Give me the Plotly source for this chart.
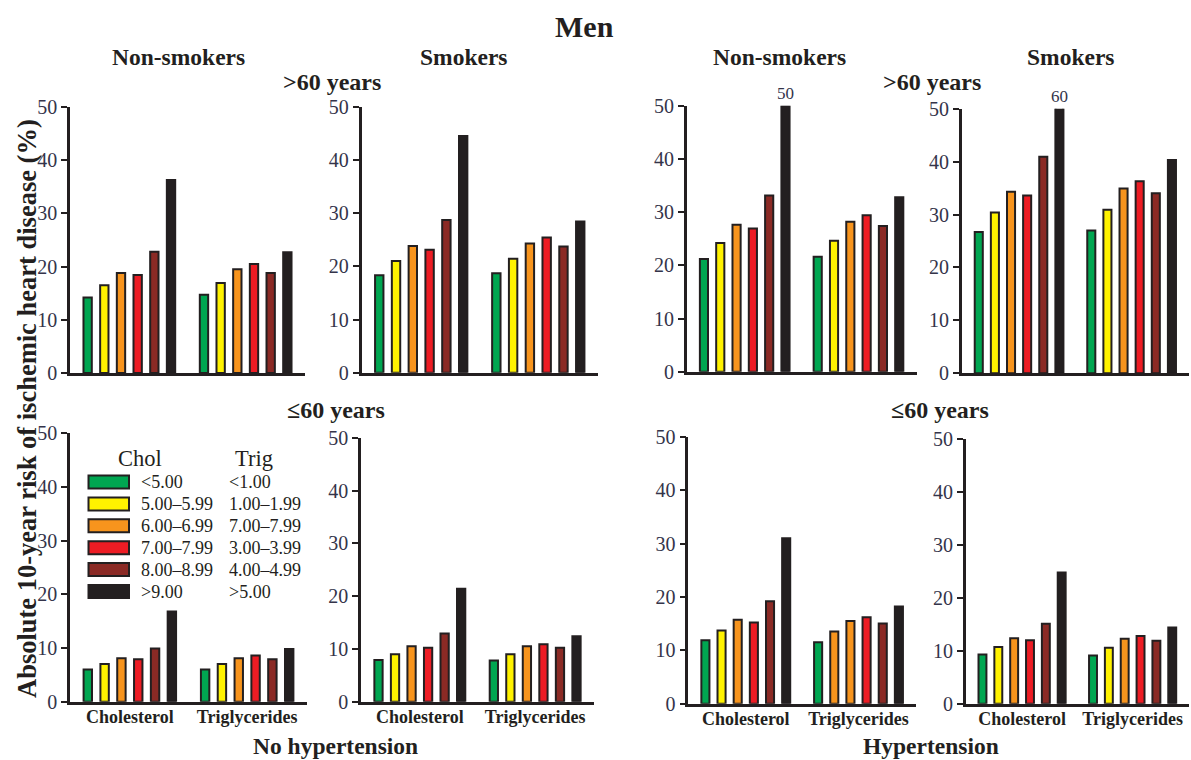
import plotly.graph_objects as go

# ---- data -------------------------------------------------------------
GROUPS = ["Cholesterol", "Triglycerides"]
CHOL_LEVELS = ["<5.00", "5.00–5.99", "6.00–6.99", "7.00–7.99", "8.00–8.99", ">9.00"]
TRIG_LEVELS = ["<1.00", "1.00–1.99", "7.00–7.99", "3.00–3.99", "4.00–4.99", ">5.00"]

# 10-year risk (%) per level: cholesterol levels, then triglyceride levels
nohyp_nonsmk_old_chol = [14.2, 16.5, 18.8, 18.4, 22.8, 36.3]
nohyp_nonsmk_old_trig = [14.7, 16.9, 19.5, 20.5, 18.8, 22.7]
nohyp_smk_old_chol = [18.3, 21.0, 23.8, 23.1, 28.7, 44.5]
nohyp_smk_old_trig = [18.7, 21.4, 24.3, 25.4, 23.7, 28.4]
hyp_nonsmk_old_chol = [21.2, 24.2, 27.6, 26.9, 33.1, 50]
hyp_nonsmk_old_trig = [21.6, 24.6, 28.2, 29.4, 27.4, 32.8]
hyp_smk_old_chol = [26.7, 30.4, 34.3, 33.6, 40.9, 60]
hyp_smk_old_trig = [27.0, 30.9, 34.9, 36.3, 34.0, 40.3]

nohyp_nonsmk_young_chol = [6.0, 7.0, 8.1, 7.9, 9.9, 16.8]
nohyp_nonsmk_young_trig = [6.0, 7.0, 8.1, 8.6, 7.9, 9.8]
nohyp_smk_young_chol = [7.9, 9.0, 10.5, 10.2, 12.9, 21.4]
nohyp_smk_young_trig = [7.8, 9.0, 10.5, 10.9, 10.2, 12.4]
hyp_nonsmk_young_chol = [11.9, 13.7, 15.7, 15.2, 19.2, 31.0]
hyp_nonsmk_young_trig = [11.5, 13.5, 15.5, 16.2, 15.0, 18.2]
hyp_smk_young_chol = [9.3, 10.7, 12.4, 12.0, 15.1, 24.8]
hyp_smk_young_trig = [9.1, 10.6, 12.3, 12.8, 11.9, 14.4]

Y_MAX = 50
Y_TICKS = [0, 10, 20, 30, 40, 50]

# ---- style ------------------------------------------------------------
COLORS = ["#00A651", "#FFF200", "#F7941D", "#ED1C24", "#8B2A25", "#231F20"]
EDGE = "#231F20"
TICK_COLOR = "#34344a"
SERIF = "Liberation Serif"
W, H = 1191, 760


def fx(x):
    return x / W


def fy(y):
    return 1 - y / H


# panel: (chol, trig, x0, x1, y_top, y_bottom, bottom_row, colour overrides)
panels = [
    (nohyp_nonsmk_old_chol, nohyp_nonsmk_old_trig, 70, 305, 107, 373, False, {}),
    (nohyp_smk_old_chol, nohyp_smk_old_trig, 361.5, 598, 106.7, 372.7, False, {}),
    (hyp_nonsmk_old_chol, hyp_nonsmk_old_trig, 686.7, 916.5, 105.7, 371.7, False, {}),
    (hyp_smk_old_chol, hyp_smk_old_trig, 961.7, 1189, 108.7, 373.3, False, {}),
    (nohyp_nonsmk_young_chol, nohyp_nonsmk_young_trig, 70, 307, 433.3, 701.7, True, {}),
    (nohyp_smk_young_chol, nohyp_smk_young_trig, 361, 594, 437.7, 701.7, True, {}),
    (hyp_nonsmk_young_chol, hyp_nonsmk_young_trig, 688.3, 916, 436.7, 703.7, True, {(1, 1): COLORS[2]}),
    (hyp_smk_young_chol, hyp_smk_young_trig, 965.7, 1189, 439.3, 703.7, True, {}),
]

BARGAP = 0.14
fig = go.Figure()
annotations = []
layout_axes = {}

for i, (chol, trig, x0, x1, yt, yb, bottom, over) in enumerate(panels):
    n = i + 1
    xr = "x" if n == 1 else f"x{n}"
    yr = "y" if n == 1 else f"y{n}"
    for k in range(6):
        cols = [over.get((k, g), COLORS[k]) for g in range(2)]
        fig.add_trace(go.Bar(
            x=GROUPS, y=[chol[k], trig[k]],
            marker=dict(color=cols, line=dict(color=EDGE, width=2)),
            xaxis=xr, yaxis=yr, offsetgroup=str(k), showlegend=False,
            name=CHOL_LEVELS[k],
        ))
    # values that reach past the axis top are written above the bar
    for g, vals in enumerate([chol, trig]):
        for k, v in enumerate(vals):
            if v >= Y_MAX:
                annotations.append(dict(
                    x=g + (k - 2.5) * (1 - BARGAP) / 6, y=Y_MAX, xref=xr, yref=yr,
                    text=f"{v:g}", showarrow=False, xanchor="center",
                    yanchor="bottom", yshift=1,
                    font=dict(family=SERIF, size=17, color=TICK_COLOR),
                ))
    layout_axes["xaxis" if n == 1 else f"xaxis{n}"] = dict(
        domain=[fx(x0), fx(x1)], anchor=yr, type="category", automargin=False,
        range=[-0.51, 1.51], showline=True, linewidth=2.5, linecolor=EDGE,
        ticks="", showgrid=False, zeroline=False, showticklabels=bottom,
        ticklabelstandoff=-3,
        tickfont=dict(family=SERIF, size=18, color=EDGE, weight="bold"),
    )
    layout_axes["yaxis" if n == 1 else f"yaxis{n}"] = dict(
        domain=[fy(yb), fy(yt)], anchor=xr, range=[0, Y_MAX], automargin=False,
        tickvals=Y_TICKS, showline=True, linewidth=2.5, linecolor=EDGE,
        ticks="outside", ticklen=6, tickwidth=2, tickcolor=EDGE,
        showgrid=False, zeroline=False,
        tickfont=dict(family=SERIF, size=20, color=TICK_COLOR),
    )


def label(text, x, y, size, bold=True, **kw):
    kw.setdefault("xanchor", "center")
    kw.setdefault("yanchor", "middle")
    annotations.append(dict(
        text=text, x=fx(x), y=fy(y), xref="paper", yref="paper", showarrow=False,
        font=dict(family=SERIF, size=size, color=EDGE, weight="bold" if bold else "normal"),
        **kw,
    ))


label("Men", 584, 27, 30)
for txt, x in [("Non-smokers", 178), ("Smokers", 463), ("Non-smokers", 779), ("Smokers", 1070)]:
    label(txt, x, 57, 23.5)
label(">60 years", 332, 82, 24)
label(">60 years", 932, 82, 24)
label("≤60 years", 336, 410, 24)
label("≤60 years", 940, 410, 24)
label("No hypertension", 335, 746, 23.5)
label("Hypertension", 931, 746, 23.5)
label("Absolute 10-year risk of ischemic heart disease (%)", 27, 409, 26.5, textangle=-90)

# legend: colour keys with cholesterol and triglyceride bands
LEG_X0, LEG_X1 = 88.5, 129
LEG_TOP, LEG_STEP, LEG_H = 482, 21.9, 13
label("Chol", 140, 458, 22.5, bold=False)
label("Trig", 254, 458, 22.5, bold=False)
shapes = []
for k in range(6):
    yc = LEG_TOP + k * LEG_STEP
    shapes.append(dict(
        type="rect", xref="paper", yref="paper",
        x0=fx(LEG_X0), x1=fx(LEG_X1), y0=fy(yc + LEG_H / 2), y1=fy(yc - LEG_H / 2),
        fillcolor=COLORS[k], line=dict(color=EDGE, width=2),
    ))
    label(CHOL_LEVELS[k], 139, yc, 18, bold=False, xanchor="left")
    label(TRIG_LEVELS[k], 227, yc, 18, bold=False, xanchor="left")

fig.update_layout(
    width=W, height=H, autosize=False,
    margin=dict(l=0, r=0, t=0, b=0, pad=0, autoexpand=False),
    paper_bgcolor="white", plot_bgcolor="white",
    barmode="group", bargap=BARGAP, bargroupgap=0.5,
    annotations=annotations, shapes=shapes, showlegend=False,
    **layout_axes,
)

fig.write_html("out.html")
